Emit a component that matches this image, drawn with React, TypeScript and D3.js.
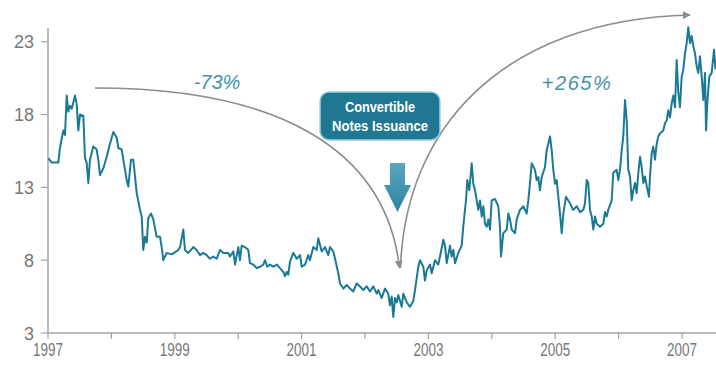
import React from 'react';
import * as d3 from 'd3';

// ---- DATA (decimal year, value) ----
const YEARS = [
  1997.005, 1997.058, 1997.162, 1997.189, 1997.241, 1997.268, 1997.295, 1997.320, 1997.347, 1997.374,
  1997.426, 1997.453, 1997.478, 1997.505, 1997.557, 1997.584, 1997.610, 1997.636, 1997.662, 1997.715,
  1997.768, 1997.793, 1997.820, 1997.872, 1997.926, 1997.978, 1998.030, 1998.084, 1998.109, 1998.162,
  1998.215, 1998.241, 1998.267, 1998.309, 1998.345, 1998.399, 1998.451, 1998.478, 1998.503, 1998.530,
  1998.557, 1998.582, 1998.625, 1998.661, 1998.714, 1998.767, 1998.793, 1998.819, 1998.872, 1998.951,
  1999.055,
  1999.082, 1999.134, 1999.161, 1999.213, 1999.292, 1999.345, 1999.397, 1999.450, 1999.503, 1999.555,
  1999.607, 1999.661, 1999.713, 1999.765, 1999.844, 1999.871, 1999.923, 1999.950, 2000.002, 2000.028,
  2000.055, 2000.107, 2000.159, 2000.186, 2000.238, 2000.292, 2000.344, 2000.396, 2000.423, 2000.459,
  2000.502, 2000.554, 2000.607, 2000.659, 2000.711, 2000.738, 2000.765, 2000.790, 2000.817, 2000.869,
  2000.923, 2000.975, 2001.002, 2001.054, 2001.106,
  2001.132, 2001.185, 2001.238, 2001.263, 2001.317, 2001.369, 2001.421, 2001.448, 2001.500, 2001.527,
  2001.579, 2001.606, 2001.658, 2001.711, 2001.763, 2001.815, 2001.869, 2001.921, 2001.973, 2002.027,
  2002.079, 2002.131, 2002.185, 2002.210, 2002.263, 2002.315, 2002.367, 2002.394, 2002.421, 2002.446,
  2002.473, 2002.500, 2002.525, 2002.579, 2002.604, 2002.658, 2002.710, 2002.762, 2002.789, 2002.841,
  2002.868, 2002.920, 2002.946, 2002.973, 2003.025, 2003.052, 2003.104, 2003.156,
  2003.183, 2003.235, 2003.262, 2003.289, 2003.341, 2003.367, 2003.393, 2003.420, 2003.472, 2003.525,
  2003.550, 2003.593, 2003.614, 2003.645, 2003.683, 2003.708, 2003.735, 2003.762, 2003.787, 2003.814,
  2003.841, 2003.866, 2003.893, 2003.920, 2003.945, 2003.972, 2003.998, 2004.050, 2004.102, 2004.129,
  2004.145, 2004.181, 2004.235, 2004.260, 2004.287, 2004.314, 2004.366, 2004.393, 2004.445, 2004.497,
  2004.550, 2004.576, 2004.603, 2004.629, 2004.681, 2004.708, 2004.733, 2004.760, 2004.787, 2004.839,
  2004.866, 2004.891, 2004.918, 2004.945, 2004.970, 2004.997, 2005.024, 2005.049, 2005.076, 2005.103,
  2005.128, 2005.170, 2005.207,
  2005.233, 2005.285, 2005.339, 2005.391, 2005.443, 2005.470, 2005.497, 2005.522, 2005.549, 2005.576,
  2005.601, 2005.628, 2005.655, 2005.707, 2005.759, 2005.785, 2005.812, 2005.837, 2005.891, 2005.916,
  2005.970, 2005.995, 2006.022, 2006.049, 2006.074, 2006.101, 2006.128, 2006.153, 2006.180, 2006.207,
  2006.232, 2006.259, 2006.285, 2006.311, 2006.338, 2006.364, 2006.390, 2006.416, 2006.443, 2006.479,
  2006.495, 2006.522, 2006.547, 2006.574, 2006.601, 2006.626, 2006.653, 2006.705, 2006.732, 2006.759,
  2006.784, 2006.811, 2006.838, 2006.863, 2006.890, 2006.916, 2006.942, 2006.968, 2006.995, 2007.021,
  2007.047, 2007.074, 2007.099, 2007.126, 2007.153, 2007.178, 2007.205, 2007.232, 2007.257, 2007.284,
  2007.311, 2007.336, 2007.363, 2007.379, 2007.399, 2007.431, 2007.468, 2007.505, 2007.528,
];

const VALUES = [
  15.0, 14.7, 14.7, 15.7, 16.9, 16.6, 19.3, 18.2, 18.6, 18.4,
  19.3, 18.7, 16.9, 18.0, 17.9, 15.0, 14.7, 13.3, 14.9, 15.8,
  15.6, 14.9, 13.85, 14.3, 15.1, 16.0, 16.8, 16.4, 15.7, 15.6,
  14.2, 13.5, 13.05, 14.9, 14.9, 12.6, 11.45, 11.0, 8.7, 9.6,
  9.2, 10.9, 11.2, 10.8, 9.6, 9.6, 8.9, 8.0, 8.5, 8.4,
  8.7,
  8.9, 10.1, 8.7, 8.5, 8.9, 8.7, 8.35, 8.5, 8.35, 8.1,
  8.25, 8.1, 8.7, 8.5, 8.5, 8.25, 8.6, 7.7, 8.9, 8.0,
  9.0, 8.9, 8.7, 7.8, 7.7, 7.45, 7.55, 7.7, 8.0, 7.55,
  7.7, 7.55, 7.7, 7.45, 7.2, 6.9, 7.2, 7.0, 7.9, 8.5,
  8.1, 8.35, 7.55, 7.7, 8.35,
  8.0, 8.9, 8.7, 9.5, 8.6, 8.9, 8.35, 8.9, 8.6, 8.1,
  7.1, 6.4, 6.05, 6.3, 6.05, 5.85, 6.4, 6.2, 5.95, 6.2,
  5.85, 6.2, 5.7, 5.95, 5.4, 6.05, 5.7, 4.9, 5.5, 4.1,
  5.4, 5.1, 5.6, 4.8, 5.7, 5.1, 4.8, 5.2, 5.95, 7.55,
  8.0, 7.55, 6.6, 7.3, 7.7, 7.1, 8.0, 7.7,
  8.25, 9.4, 9.0, 7.8, 9.0, 8.25, 8.7, 7.8, 8.5, 9.0,
  10.3, 12.1, 13.5, 12.8, 14.65, 13.25, 12.8, 12.1, 11.45, 12.1,
  11.0, 11.7, 10.5, 10.3, 10.8, 10.1, 12.1, 12.2, 11.7, 10.3,
  8.25, 9.85, 10.1, 11.2, 10.8, 10.1, 9.85, 10.8, 11.45, 11.7,
  11.2, 12.1, 13.3, 14.65, 14.2, 13.5, 13.7, 12.8, 13.7, 14.4,
  15.55, 16.0, 16.5, 15.55, 14.2, 13.25, 13.5, 12.35, 11.2, 9.85,
  11.2, 12.35, 12.1,
  11.9, 11.45, 11.7, 11.3, 11.45, 11.9, 13.5, 13.3, 11.45, 11.0,
  10.1, 11.0, 10.5, 10.3, 10.5, 11.3, 11.0, 11.45, 12.1, 14.0,
  14.2, 13.5, 14.2, 15.55, 16.5, 19.0, 17.6, 14.2, 13.75, 12.1,
  12.8, 13.3, 12.6, 14.0, 15.1, 14.4, 13.3, 13.75, 13.1, 12.35,
  13.75, 15.35, 15.8, 14.9, 16.0, 16.5, 16.7, 16.9, 17.4, 17.6,
  18.3, 17.8, 18.8, 19.3, 18.5, 21.75, 19.5, 18.5, 20.6, 21.1,
  22.2, 22.9, 24.0, 22.9, 23.4, 22.7, 22.2, 21.3, 20.85, 22.0,
  20.6, 19.0, 20.85, 16.9, 18.8, 20.6, 20.85, 22.45, 21.1,
];

const Y_TICKS = [3, 8, 13, 18, 23];
const X_TICKS = [1997, 1998, 1999, 2000, 2001, 2002, 2003, 2004, 2005, 2006, 2007];
const X_LABELS = ['1997', '1999', '2001', '2003', '2005', '2007'];

const LEFT_CHANGE = '-73%';
const RIGHT_CHANGE = '+265%';
const BOX_LINES = ['Convertible', 'Notes Issuance'];

// ---- LAYOUT ----
const W = 716;
const H = 372;
const AXIS_X = 48;
const AXIS_Y = 333;
const AXIS_TOP = 28;

const AXIS_FONT = "'Liberation Sans', Arial, sans-serif";

export default function App() {
  const x = d3.scaleLinear().domain([1997, 2007]).range([AXIS_X, 682]);
  const y = d3.scaleLinear().domain([3, 23]).range([AXIS_Y, 41.7]);

  const pts: [number, number][] = YEARS.map((t, i) => [t, VALUES[i]]);
  const linePath = d3
    .line<[number, number]>()
    .x((d) => x(d[0]))
    .y((d) => y(d[1]))(pts) as string;

  // curved annotation arrows (layout positions)
  const left = d3.path();
  left.moveTo(95, 88);
  left.bezierCurveTo(280, 88, 386, 150, 399.5, 268);
  const right = d3.path();
  right.moveTo(400.5, 268);
  right.bezierCurveTo(405, 130, 500, 20, 690, 15);

  const grey = '#8d8d8d';
  const axisGrey = '#a3a3a3';
  const labelGrey = '#777777';

  return (
    <svg
      width={W}
      height={H}
      viewBox={`0 0 ${W} ${H}`}
      style={{ position: 'absolute', left: 0, top: 0, background: '#ffffff' }}
    >
      <defs>
        <marker
          id="ah"
          viewBox="0 0 10 10"
          refX="9"
          refY="5"
          markerWidth="8"
          markerHeight="8"
          markerUnits="userSpaceOnUse"
          orient="auto"
        >
          <path d="M0,0 L10,5 L0,10 z" fill={grey} />
        </marker>
        <linearGradient id="dn" x1="0" y1="0" x2="0" y2="1">
          <stop offset="0" stopColor="#5aa6c0" />
          <stop offset="1" stopColor="#2d83a2" />
        </linearGradient>
      </defs>

      {/* axes */}
      <line x1={AXIS_X} x2={AXIS_X} y1={AXIS_TOP} y2={AXIS_Y} stroke={axisGrey} strokeWidth={1.5} />
      <line x1={AXIS_X} x2={W} y1={AXIS_Y} y2={AXIS_Y} stroke={axisGrey} strokeWidth={1.5} />
      {Y_TICKS.map((t) => (
        <g key={'y' + t}>
          <line x1={AXIS_X - 7} x2={AXIS_X} y1={y(t)} y2={y(t)} stroke={axisGrey} strokeWidth={1.2} />
          <text
            x={34 - String(t).length * 10}
            y={y(t) + 6.5}
            fontFamily={AXIS_FONT}
            fontSize={18}
            textLength={String(t).length * 10}
            lengthAdjust="spacingAndGlyphs"
            fill={labelGrey}
          >
            {t}
          </text>
        </g>
      ))}
      {X_TICKS.map((t) => (
        <line key={'x' + t} x1={x(t)} x2={x(t)} y1={AXIS_Y} y2={AXIS_Y + 6} stroke={axisGrey} strokeWidth={1.2} />
      ))}
      {X_LABELS.map((l) => (
        <text
          key={'xl' + l}
          x={x(+l) - 15}
          y={356}
          fontFamily={AXIS_FONT}
          fontSize={18}
          textLength={30}
          lengthAdjust="spacingAndGlyphs"
          fill={labelGrey}
        >
          {l}
        </text>
      ))}

      {/* series */}
      <path d={linePath} fill="none" stroke="#1a7a96" strokeWidth={2} strokeLinejoin="round" />

      {/* annotation arrows */}
      <path d={left.toString()} fill="none" stroke={grey} strokeWidth={1.6} markerEnd="url(#ah)" />
      <path d={right.toString()} fill="none" stroke={grey} strokeWidth={1.6} markerEnd="url(#ah)" />

      {/* issuance box */}
      <rect x={320} y={92} width={120} height={48} rx={9} fill="#1f7792" stroke="#9fd0df" strokeWidth={1.5} />
      {BOX_LINES.map((s, i) => (
        <text
          key={s}
          x={380 - (i === 0 ? 35 : 48)}
          y={112 + i * 19}
          fontFamily={AXIS_FONT}
          fontWeight="bold"
          fontSize={14}
          textLength={i === 0 ? 70 : 96}
          lengthAdjust="spacingAndGlyphs"
          fill="#ffffff"
        >
          {s}
        </text>
      ))}
      <path d="M390,163 L405,163 L405,185 L411,185 L397.5,212 L384,185 L390,185 Z" fill="url(#dn)" />

      {/* change labels */}
      <text
        x={217}
        y={89}
        textAnchor="middle"
        fontFamily="'Liberation Sans', Arial, sans-serif"
        fontStyle="italic"
        fontSize={20}
        fill="#4791aa"
      >
        {LEFT_CHANGE}
      </text>
      <text
        x={577}
        y={90}
        textAnchor="middle"
        fontFamily="'Liberation Sans', Arial, sans-serif"
        fontStyle="italic"
        fontSize={20}
        letterSpacing={1.5}
        fill="#4791aa"
      >
        {RIGHT_CHANGE}
      </text>
    </svg>
  );
}
